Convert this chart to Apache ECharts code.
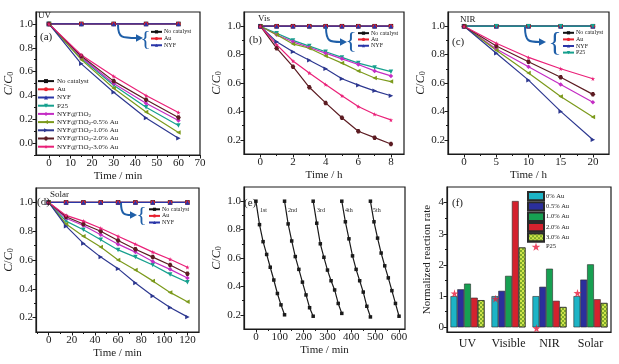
<!DOCTYPE html>
<html>
<head>
<meta charset="utf-8">
<script src="https://cdn.jsdelivr.net/npm/echarts@6/dist/echarts.min.js"></script>
<style>
html, body { margin: 0; background: #fff; }
#chart { width: 619px; height: 364px; }
</style>
</head>
<body>
<div id="chart"></div>
<script>
// ---- data ----
var NAMES = ['No catalyst', 'Au', 'NYF', 'P25', 'NYF@TiO2', 'NYF@TiO2-0.5% Au',
  'NYF@TiO2-1.0% Au', 'NYF@TiO2-2.0% Au', 'NYF@TiO2-3.0% Au'];

// (a) UV
var tUV = [0, 15, 30, 45, 60];
var uvControl = [1, 1, 1, 1, 1];
var uvP25 = [1, 0.71, 0.485, 0.30, 0.148];
var uvTiO2 = [1, 0.72, 0.50, 0.335, 0.19];
var uvAu05 = [1, 0.70, 0.46, 0.26, 0.089];
var uvAu10 = [1, 0.665, 0.427, 0.21, 0.04];
var uvAu20 = [1, 0.73, 0.52, 0.363, 0.215];
var uvAu30 = [1, 0.74, 0.56, 0.40, 0.257];

// (b) visible
var tVis = [0, 1, 2, 3, 4, 5, 6, 7, 8];
var visControl = [1, 1, 1, 1, 1, 1, 1, 1, 1];
var visP25 = [1, 0.95, 0.90, 0.86, 0.82, 0.78, 0.74, 0.71, 0.68];
var visTiO2 = [1, 0.94, 0.89, 0.85, 0.81, 0.77, 0.73, 0.685, 0.65];
var visAu05 = [1, 0.94, 0.875, 0.845, 0.79, 0.74, 0.685, 0.635, 0.61];
var visAu10 = [1, 0.89, 0.82, 0.76, 0.70, 0.63, 0.585, 0.545, 0.51];
var visAu20 = [1, 0.845, 0.715, 0.57, 0.46, 0.355, 0.26, 0.215, 0.17];
var visAu30 = [1, 0.87, 0.755, 0.67, 0.59, 0.51, 0.435, 0.38, 0.34];

// (c) NIR
var tNIR = [0, 5, 10, 15, 20];
var nirControl = [1, 1, 1, 1, 1];
var nirTiO2 = [1, 0.84, 0.715, 0.59, 0.465];
var nirAu05 = [1, 0.83, 0.67, 0.505, 0.36];
var nirAu10 = [1, 0.81, 0.62, 0.40, 0.20];
var nirAu20 = [1, 0.86, 0.75, 0.64, 0.52];
var nirAu30 = [1, 0.88, 0.78, 0.70, 0.63];

// (d) solar
var tSolar = [0, 15, 30, 45, 60, 75, 90, 105, 120];
var solControl = [1, 1, 1, 1, 1, 1, 1, 1, 1];
var solP25 = [1, 0.87, 0.81, 0.74, 0.67, 0.62, 0.565, 0.50, 0.445];
var solTiO2 = [1, 0.89, 0.84, 0.775, 0.71, 0.655, 0.59, 0.535, 0.475];
var solAu05 = [1, 0.85, 0.765, 0.69, 0.60, 0.53, 0.455, 0.375, 0.31];
var solAu10 = [1, 0.835, 0.715, 0.62, 0.54, 0.44, 0.35, 0.27, 0.205];
var solAu20 = [1, 0.90, 0.85, 0.80, 0.735, 0.675, 0.62, 0.565, 0.505];
var solAu30 = [1, 0.91, 0.87, 0.82, 0.765, 0.71, 0.655, 0.605, 0.55];

// (e) recycling runs
var tRun = [0, 15, 30, 45, 60, 75, 90, 105, 120];
var runStart = [0, 120, 240, 360, 480];
var runLabels = ['1st', '2nd', '3rd', '4th', '5th'];
var run1 = [1, 0.835, 0.715, 0.625, 0.535, 0.445, 0.35, 0.27, 0.20];
var run2 = [1, 0.84, 0.72, 0.61, 0.52, 0.43, 0.34, 0.25, 0.19];
var run3 = [1, 0.845, 0.70, 0.605, 0.515, 0.44, 0.375, 0.28, 0.21];
var run4 = [1, 0.855, 0.735, 0.615, 0.52, 0.44, 0.36, 0.26, 0.185];
var run5 = [1, 0.855, 0.74, 0.635, 0.545, 0.46, 0.37, 0.28, 0.19];

// (f) normalized rates
var rateCats = ['UV', 'Visible', 'NIR', 'Solar'];
var rateNames = ['0% Au', '0.5% Au', '1.0% Au', '2.0% Au', '3.0% Au'];
var rate0 = [1.0, 1.0, 1.0, 1.0];
var rate05 = [1.22, 1.17, 1.30, 1.53];
var rate10 = [1.40, 1.65, 1.88, 2.02];
var rate20 = [0.95, 4.05, 0.85, 0.90];
var rate30 = [0.87, 2.56, 0.65, 0.78];
var rateP25 = [1.09, 0.92, -0.03, 1.10];

// tick positions per panel (major / minor)
var ticksX = [
  [[0, 10, 20, 30, 40, 50, 60, 70], [5, 15, 25, 35, 45, 55, 65]],
  [[0, 2, 4, 6, 8], [1, 3, 5, 7]],
  [[0, 5, 10, 15, 20], [2.5, 7.5, 12.5, 17.5]],
  [[0, 20, 40, 60, 80, 100, 120], [-10, 10, 30, 50, 70, 90, 110]],
  [[0, 100, 200, 300, 400, 500, 600], [50, 150, 250, 350, 450, 550]]
];
var ticksY = [
  [[0, 0.2, 0.4, 0.6, 0.8, 1.0], [-0.1, 0.1, 0.3, 0.5, 0.7, 0.9]],
  [[0.2, 0.4, 0.6, 0.8, 1.0], [0.3, 0.5, 0.7, 0.9]],
  [[0.2, 0.4, 0.6, 0.8, 1.0], [0.3, 0.5, 0.7, 0.9]],
  [[0.2, 0.4, 0.6, 0.8, 1.0], [0.3, 0.5, 0.7, 0.9]],
  [[0.2, 0.4, 0.6, 0.8, 1.0], [0.3, 0.5, 0.7, 0.9]],
  [[0, 1, 2, 3, 4], [0.5, 1.5, 2.5, 3.5]]
];

// ---- styles ----
var FONT = '"Liberation Serif", "DejaVu Serif", serif';
var INK = '#1a1a1a';
var BLUE = '#1f5fa8';
var HEX = 'path://M0,5 L2.5,0.7 L7.5,0.7 L10,5 L7.5,9.3 L2.5,9.3 Z';
var STAR = 'path://M50,0 L61,35 L98,35 L68,57 L79,91 L50,70 L21,91 L32,57 L2,35 L39,35 Z';
var STYLE = {
  'No catalyst':      { color: '#111111', symbol: 'rect' },
  'Au':               { color: '#e8202e', symbol: 'circle' },
  'NYF':              { color: '#2a36a8', symbol: 'triangle' },
  'P25':              { color: '#16a08e', symbol: 'triangle', rot: 180 },
  'NYF@TiO2':         { color: '#c42cc4', symbol: 'diamond' },
  'NYF@TiO2-0.5% Au': { color: '#7c9a1c', symbol: 'triangle', rot: 90 },
  'NYF@TiO2-1.0% Au': { color: '#2d3890', symbol: 'triangle', rot: -90 },
  'NYF@TiO2-2.0% Au': { color: '#5c1c22', symbol: HEX },
  'NYF@TiO2-3.0% Au': { color: '#ea2078', symbol: STAR }
};
var BAR_COLORS = ['#1db4c6', '#2b2f9c', '#17a052', '#d4222e', '#cfe64a'];

function curve(name, gi, xs, ys) {
  var st = STYLE[name];
  return {
    type: 'line', name: name, xAxisIndex: gi, yAxisIndex: gi,
    data: xs.map(function (x, i) { return [x, ys[i]]; }),
    symbol: st.symbol, symbolRotate: st.rot || 0, symbolSize: 4.5,
    lineStyle: { color: st.color, width: 1.2 },
    itemStyle: { color: st.color },
    animation: false
  };
}

function valAxis(gi, min, max, ticks, pos, fmt, name) {
  return {
    type: 'value', gridIndex: gi, min: min, max: max, position: pos,
    name: name, nameLocation: 'middle',
    axisLine: { show: true, onZero: false, lineStyle: { color: INK, width: 1.2 } },
    axisTick: { show: true, inside: false, length: 3.5, customValues: ticks, lineStyle: { color: INK } },
    axisLabel: { customValues: ticks, color: INK, fontFamily: FONT, fontSize: 11, margin: 3, formatter: fmt },
    splitLine: { show: false }
  };
}
// tick-only axis for the minor ticks
function minorAxis(gi, min, max, ticks, pos) {
  return {
    type: 'value', gridIndex: gi, min: min, max: max, position: pos,
    axisLine: { show: false, onZero: false },
    axisTick: { show: true, inside: false, length: 2, customValues: ticks, lineStyle: { color: INK } },
    axisLabel: { show: false }, splitLine: { show: false }
  };
}

var ccName = '{i|C}{n|/}{i|C}{s|0}';
var ccStyle = {
  fontFamily: FONT, color: INK,
  rich: {
    i: { fontFamily: FONT, fontSize: 12, fontStyle: 'italic', color: INK },
    n: { fontFamily: FONT, fontSize: 12, color: INK },
    s: { fontFamily: FONT, fontSize: 8, color: INK, verticalAlign: 'bottom', padding: [5, 0, 0, 0] }
  }
};
function yC(gi, min) {
  var ax = valAxis(gi, min, 1.1, ticksY[gi][0], 'left', function (v) { return v.toFixed(1); }, ccName);
  ax.nameGap = 20; ax.nameRotate = 90; ax.nameTextStyle = ccStyle;
  return ax;
}
function xT(gi, min, max, name) {
  var ax = valAxis(gi, min, max, ticksX[gi][0], 'bottom', null, name);
  ax.nameGap = 16;
  ax.nameTextStyle = { fontFamily: FONT, fontSize: 11, color: INK };
  return ax;
}

var grids = [
  { left: 36, top: 12, width: 164, height: 143 },
  { left: 244, top: 12, width: 160, height: 142 },
  { left: 448, top: 12, width: 161, height: 142 },
  { left: 36, top: 188, width: 163, height: 144 },
  { left: 244, top: 187, width: 161, height: 142 },
  { left: 447, top: 187, width: 164, height: 145 }
].map(function (g) {
  g.show = true; g.borderColor = INK; g.borderWidth = 1.2; g.containLabel = false;
  return g;
});

var xRange = [[-6, 70], [-1, 8.8], [-2.5, 22.5], [-11, 130], [-50, 625]];
var xNames = ['Time / min', 'Time / h', 'Time / h', 'Time / min', 'Time / min'];
var yMin = [-0.1, 0.1, 0.1, 0.1, 0.1];

var xAxes = xRange.map(function (r, gi) { return xT(gi, r[0], r[1], xNames[gi]); });
xAxes.push({
  type: 'category', gridIndex: 5, data: rateCats,
  axisLine: { onZero: false, lineStyle: { color: INK, width: 1.2 } },
  axisTick: { length: 3.5, lineStyle: { color: INK } },
  axisLabel: { interval: 0, color: INK, fontFamily: FONT, fontSize: 12, margin: 6 }
});
var yAxes = yMin.map(function (m, gi) { return yC(gi, m); });
var yF = valAxis(5, -0.15, 4.5, ticksY[5][0], 'left', null, 'Normalized reaction rate');
yF.nameGap = 14; yF.nameRotate = 90;
yF.nameTextStyle = { fontFamily: FONT, fontSize: 11, color: INK };
yAxes.push(yF);
// minor tick axes (indices 6.. for x, 6.. for y)
xRange.forEach(function (r, gi) { xAxes.push(minorAxis(gi, r[0], r[1], ticksX[gi][1], 'bottom')); });
yMin.forEach(function (m, gi) { yAxes.push(minorAxis(gi, m, 1.1, ticksY[gi][1], 'left')); });
yAxes.push(minorAxis(5, -0.15, 4.5, ticksY[5][1], 'left'));

var series = [];
// (a)
['No catalyst', 'Au', 'NYF'].forEach(function (n) { series.push(curve(n, 0, tUV, uvControl)); });
series.push(curve('P25', 0, tUV, uvP25), curve('NYF@TiO2', 0, tUV, uvTiO2),
  curve('NYF@TiO2-0.5% Au', 0, tUV, uvAu05), curve('NYF@TiO2-1.0% Au', 0, tUV, uvAu10),
  curve('NYF@TiO2-2.0% Au', 0, tUV, uvAu20), curve('NYF@TiO2-3.0% Au', 0, tUV, uvAu30));
// (b)
['No catalyst', 'Au', 'NYF'].forEach(function (n) { series.push(curve(n, 1, tVis, visControl)); });
series.push(curve('P25', 1, tVis, visP25), curve('NYF@TiO2', 1, tVis, visTiO2),
  curve('NYF@TiO2-0.5% Au', 1, tVis, visAu05), curve('NYF@TiO2-1.0% Au', 1, tVis, visAu10),
  curve('NYF@TiO2-2.0% Au', 1, tVis, visAu20), curve('NYF@TiO2-3.0% Au', 1, tVis, visAu30));
// (c)
['No catalyst', 'Au', 'NYF', 'P25'].forEach(function (n) { series.push(curve(n, 2, tNIR, nirControl)); });
series.push(curve('NYF@TiO2', 2, tNIR, nirTiO2),
  curve('NYF@TiO2-0.5% Au', 2, tNIR, nirAu05), curve('NYF@TiO2-1.0% Au', 2, tNIR, nirAu10),
  curve('NYF@TiO2-2.0% Au', 2, tNIR, nirAu20), curve('NYF@TiO2-3.0% Au', 2, tNIR, nirAu30));
// (d)
['No catalyst', 'Au', 'NYF'].forEach(function (n) { series.push(curve(n, 3, tSolar, solControl)); });
series.push(curve('P25', 3, tSolar, solP25), curve('NYF@TiO2', 3, tSolar, solTiO2),
  curve('NYF@TiO2-0.5% Au', 3, tSolar, solAu05), curve('NYF@TiO2-1.0% Au', 3, tSolar, solAu10),
  curve('NYF@TiO2-2.0% Au', 3, tSolar, solAu20), curve('NYF@TiO2-3.0% Au', 3, tSolar, solAu30));
// (e)
[run1, run2, run3, run4, run5].forEach(function (run, k) {
  series.push({
    type: 'line', name: 'run' + (k + 1), xAxisIndex: 4, yAxisIndex: 4,
    data: tRun.map(function (t, i) { return [runStart[k] + t, run[i]]; }),
    symbol: 'rect', symbolSize: 3.5,
    lineStyle: { color: INK, width: 1.2 }, itemStyle: { color: INK }, animation: false
  });
});
// (f)
[rate0, rate05, rate10, rate20, rate30].forEach(function (vals, k) {
  var it = { color: BAR_COLORS[k], borderColor: '#2a2a2a', borderWidth: 0.6 };
  if (k === 4) {
    it.decal = { symbol: 'rect', symbolSize: 1, color: 'rgba(60,120,20,0.55)',
      dashArrayX: [[2, 2], [0, 2, 2, 0]], dashArrayY: [2, 0] };
  }
  series.push({
    type: 'bar', name: rateNames[k], xAxisIndex: 5, yAxisIndex: 5, data: vals,
    barGap: '0%', barCategoryGap: '17%', itemStyle: it, animation: false
  });
});
series.push({
  type: 'scatter', name: 'P25 ', xAxisIndex: 5, yAxisIndex: 5, data: rateP25,
  symbol: STAR, symbolSize: 8, symbolOffset: [-13, 0], itemStyle: { color: '#ea1c3c' },
  z: 5, animation: false
});

function tiFmt(name) {
  var i = name.indexOf('TiO2');
  if (i < 0) return '{n|' + name + '}';
  var rest = name.slice(i + 4);
  return '{n|' + name.slice(0, i + 3) + '}{s|2}' + (rest ? '{n|' + rest + '}' : '');
}
function smallLegend(left, top, names, fs, lh) {
  return {
    orient: 'vertical', left: left, top: top, padding: 0, itemGap: 0,
    itemWidth: 11, itemHeight: 4, selectedMode: false, data: names,
    textStyle: { fontFamily: FONT, fontSize: fs, color: INK, lineHeight: lh, padding: [0, 0, 0, -3] }
  };
}

var legends = [
  {
    orient: 'vertical', left: 37, top: 77, padding: 0, itemGap: 0,
    itemWidth: 16, itemHeight: 5, selectedMode: false, data: NAMES,
    formatter: tiFmt,
    textStyle: {
      fontFamily: FONT, fontSize: 7, color: INK, lineHeight: 8.2, padding: [0, 0, 0, -2],
      rich: {
        n: { fontFamily: FONT, fontSize: 7, color: INK, lineHeight: 8.2 },
        s: { fontFamily: FONT, fontSize: 5, color: INK, verticalAlign: 'bottom', lineHeight: 8.2 }
      }
    }
  },
  smallLegend(150, 28.5, ['No catalyst', 'Au', 'NYF'], 6, 6.7),
  smallLegend(357, 30, ['No catalyst', 'Au', 'NYF'], 6, 6.3),
  smallLegend(562, 29.5, ['No catalyst', 'Au', 'NYF', 'P25'], 6, 6.6),
  smallLegend(148, 206, ['No catalyst', 'Au', 'NYF'], 6, 6.6),
  {
    orient: 'vertical', left: 527, top: 191, padding: 0, itemGap: 0,
    itemWidth: 16, itemHeight: 8.3, selectedMode: false, icon: 'rect',
    data: rateNames.map(function (n) { return { name: n }; }).concat([{ name: 'P25 ', icon: STAR }]),
    textStyle: { fontFamily: FONT, fontSize: 6.5, color: INK, lineHeight: 8.3, padding: [0, 0, 0, -3] }
  }
];

function txt(x, y, s, fs, extra) {
  var o = { type: 'text', left: x, top: y, z: 100,
    style: { text: s, fontFamily: FONT, fontSize: fs, fill: INK } };
  if (extra) Object.assign(o.style, extra);
  return o;
}
function arrow(x0, y0, x1, y1) {
  return [
    { type: 'bezierCurve', z: 100,
      shape: { x1: x0, y1: y0, cpx1: x0, cpy1: y1, cpx2: x0 + 4, cpy2: y1, x2: x1, y2: y1 },
      style: { stroke: BLUE, lineWidth: 2, fill: null } },
    { type: 'polygon', z: 100,
      shape: { points: [[x1 - 1, y1 - 3.8], [x1 + 6, y1], [x1 - 1, y1 + 3.8]] },
      style: { fill: BLUE } }
  ];
}
function brace(x, y, fs) {
  return { type: 'text', x: x, y: y, z: 100,
    style: { text: '{', fontFamily: FONT, fontSize: fs, fill: BLUE, align: 'center', verticalAlign: 'middle' } };
}

var graphics = [
  txt(38, 11, 'UV', 9), txt(40, 32, '(a)', 11),
  txt(258, 14, 'Vis', 9), txt(249, 35, '(b)', 11),
  txt(460, 15, 'NIR', 9), txt(452, 37, '(c)', 11),
  txt(50, 190, 'Solar', 9), txt(37, 197, '(d)', 11),
  txt(244, 198, '(e)', 11), txt(452, 198, '(f)', 11),
  brace(145.5, 39, 22), brace(351, 42, 24), brace(555, 44, 28), brace(141.5, 215.5, 22)
]
  .concat(arrow(118, 25, 137, 38))
  .concat(arrow(326, 27, 341, 42))
  .concat(arrow(525, 27, 540, 42))
  .concat(arrow(121, 203, 131, 215));
var runLabelX = [260, 288, 317, 345, 373];
runLabels.forEach(function (s, k) { graphics.push(txt(runLabelX[k], 207, s, 6)); });

var chart = echarts.init(document.getElementById('chart'), null, { renderer: 'canvas' });
chart.setOption({
  backgroundColor: '#fff',
  animation: false,
  textStyle: { fontFamily: FONT },
  grid: grids,
  xAxis: xAxes,
  yAxis: yAxes,
  legend: legends,
  series: series,
  graphic: graphics
});
</script>
</body>
</html>
